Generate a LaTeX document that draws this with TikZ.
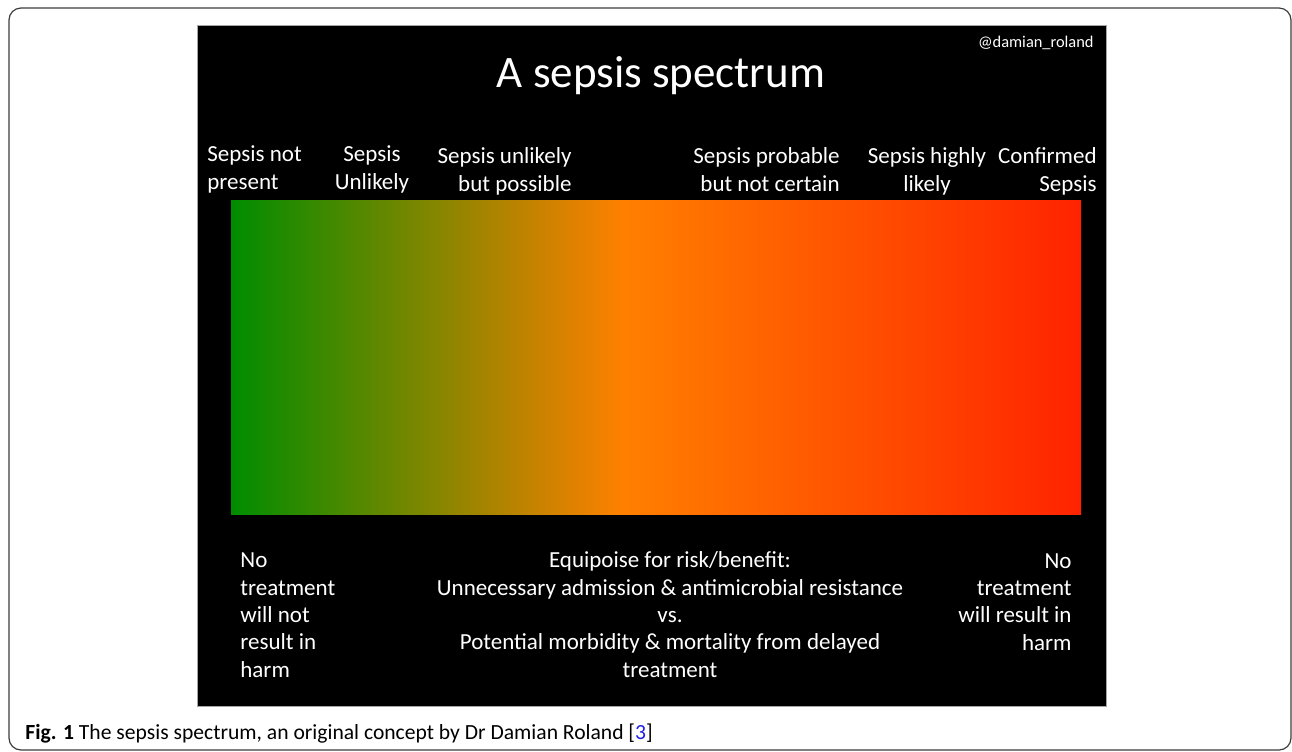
\documentclass[tikz,border=0pt]{standalone}
\usepackage{fontspec}
\setmainfont{Carlito}
\usetikzlibrary{positioning}
\definecolor{framegray}{RGB}{60,60,60}
\definecolor{spgreen}{RGB}{0,140,0}
\definecolor{sporange}{RGB}{255,128,0}
\definecolor{spred}{RGB}{255,35,0}
\definecolor{citeblue}{RGB}{30,30,230}
\pgfdeclarehorizontalshading{sepsisbar}{100bp}{color(0bp)=(spgreen); color(25bp)=(spgreen); color(48bp)=(sporange); color(75bp)=(spred); color(100bp)=(spred)}

\begin{document}
\begin{tikzpicture}[x=0.5pt, y=-0.5pt,
    lbl/.style={text=white, inner sep=0pt, font=\fontsize{11.5}{13.6}\selectfont},
    lowlbl/.style={lbl, font=\fontsize{11.5}{13.65}\selectfont}
  ]
    \useasboundingbox (0,0) rectangle (1292,751);
    \draw[framegray, line width=0.6pt, rounded corners=6pt] (9,8) rectangle (1291,750);
    \draw[gray!70, fill=black, line width=0.4pt] (197,25) rectangle (1106,706);
    \shade[shading=sepsisbar] (231,200) rectangle (1081,514);

    \node[lbl, anchor=base, font=\fontsize{22.5}{27}\selectfont] (title) at (661,87) {A sepsis spectrum};
    \node[lbl, anchor=base east, font=\fontsize{8.2}{10}\selectfont] (handle) at (1094,47) {@damian\_roland};

    \node[lbl, anchor=base west, align=left] (notpresent) at (207,189) {Sepsis not\\present};
    \node[lbl, anchor=base, align=center] (unlikely) at (372,189) {Sepsis\\Unlikely};
    \node[lbl, anchor=base east, align=right] (possible) at (572,191) {Sepsis unlikely\\but possible};
    \node[lbl, anchor=base east, align=right] (probable) at (840,191) {Sepsis probable\\but not certain};
    \node[lbl, anchor=base, align=center] (highly) at (927,191) {Sepsis highly\\likely};
    \node[lbl, anchor=base east, align=right] (confirmed) at (1097,191) {Confirmed\\Sepsis};

    \node[lowlbl, anchor=base west, align=left] (noharm) at (240,677) {No\\treatment\\will not\\result in\\harm};
    \node[lowlbl, anchor=base, align=center] (equipoise) at (670,677) {Equipoise for risk/benefit:\\Unnecessary admission \& antimicrobial resistance\\vs.\\Potential morbidity \& mortality from delayed\\treatment};
    \node[lowlbl, anchor=base east, align=right] (harm) at (1072,650) {No\\treatment\\will result in\\harm};

    \node[inner sep=0pt, anchor=base west, font=\fontsize{10.8}{13}\selectfont] (caption) at (25,739)
      {\textbf{Fig. 1} The sepsis spectrum, an original concept by Dr Damian Roland [{\color{citeblue}3}]};
\end{tikzpicture}
\end{document}
